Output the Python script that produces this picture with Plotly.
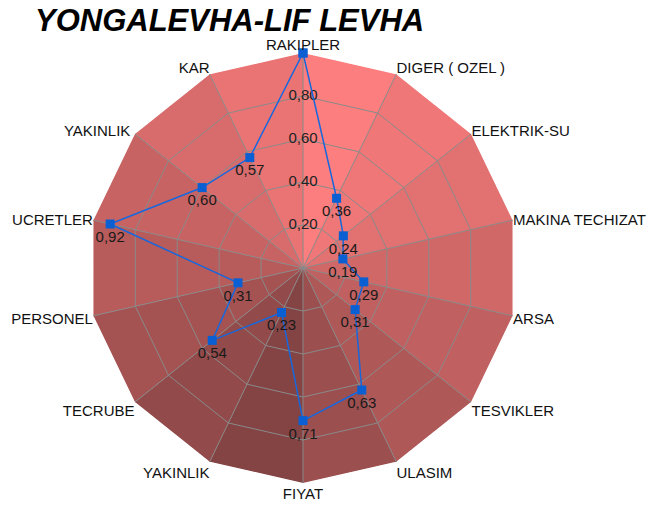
import plotly.graph_objects as go

# categories clockwise from top (second YAKINLIK gets a trailing space to stay unique)
categories = ["RAKIPLER", "DIGER ( OZEL )", "ELEKTRIK-SU", "MAKINA TECHIZAT", "ARSA",
              "TESVIKLER", "ULASIM", "FIYAT", "YAKINLIK", "TECRUBE", "PERSONEL",
              "UCRETLER", "YAKINLIK ", "KAR"]
values = [1.00, 0.36, 0.24, 0.19, 0.29, 0.31, 0.63, 0.71, 0.23, 0.54, 0.31, 0.92, 0.60, 0.57]
radial_ticks = [0.2, 0.4, 0.6, 0.8]

# shade of each wedge between a spoke and the next one (clockwise)
sector_colors = ["#FD7E7E", "#EF7777", "#E27171", "#D06868", "#C06060", "#AF5858",
                 "#9C4F4F", "#844444", "#924A4A", "#A55252", "#B85B5B", "#C86363",
                 "#D86B6B", "#EA7474"]

fig = go.Figure()

# background wedges on the lower polar subplot
n = len(categories)
for i in range(n):
    a, b = categories[i], categories[(i + 1) % n]
    fig.add_trace(go.Scatterpolar(
        r=[0, 1, 1, 0], theta=[a, a, b, a], mode="lines", fill="toself",
        fillcolor=sector_colors[i], line=dict(width=0.5, color=sector_colors[i]),
        hoverinfo="skip", showlegend=False, subplot="polar"))

# radial tick labels centred on the top spoke
fig.add_trace(go.Scatterpolar(
    r=radial_ticks, theta=[categories[0]] * len(radial_ticks), mode="text",
    text=[f"{t:.2f}".replace(".", ",") for t in radial_ticks],
    textposition="middle center",
    textfont=dict(family="Liberation Sans", size=15, color="#222222"),
    hoverinfo="skip", showlegend=False, subplot="polar2"))

# data series
labels = [""] + [f"{v:.2f}".replace(".", ",") for v in values[1:]]
fig.add_trace(go.Scatterpolar(
    r=values + values[:1], theta=categories + categories[:1],
    mode="lines+markers+text", text=labels + [""],
    textposition="bottom center",
    textfont=dict(family="Liberation Sans", size=15, color="#1a1a1a"),
    line=dict(color="#1767DD", width=1.5),
    marker=dict(symbol="square", size=9, color="#0A5FD2"),
    showlegend=False, subplot="polar2"))

# page body adds 8px offset, so the domain is shifted to compensate
dom = dict(x=[80 / 655, 510 / 655], y=[33 / 508, 463 / 508])
common_ang = dict(type="category", categoryarray=categories, rotation=90,
                  direction="clockwise")

fig.update_layout(
    width=655, height=508,
    margin=dict(l=0, r=0, t=0, b=0),
    paper_bgcolor="white",
    font=dict(family="Liberation Sans", size=15, color="#111111"),
    title=dict(text="YONGALEVHA-LIF LEVHA", x=27 / 655, xanchor="left",
               y=1 - 12 / 508, yanchor="middle",
               font=dict(family="Liberation Sans", size=31, color="black",
                         weight="bold", style="italic")),
    polar=dict(
        domain=dom, gridshape="linear", bgcolor="rgba(0,0,0,0)",
        radialaxis=dict(range=[0, 1], visible=False),
        angularaxis=dict(common_ang, showgrid=False, showline=False,
                         showticklabels=False, ticks="")),
    polar2=dict(
        domain=dom, gridshape="linear", bgcolor="rgba(0,0,0,0)",
        radialaxis=dict(range=[0, 1], tickvals=radial_ticks, showticklabels=False,
                        showline=False, ticks="", gridcolor="#8A8A8A", gridwidth=1),
        angularaxis=dict(common_ang, showgrid=True, gridcolor="#8A8A8A", gridwidth=1,
                         showline=False, ticks="",
                         tickfont=dict(family="Liberation Sans", size=15, color="#111111"))),
)

fig.write_html("out.html")
